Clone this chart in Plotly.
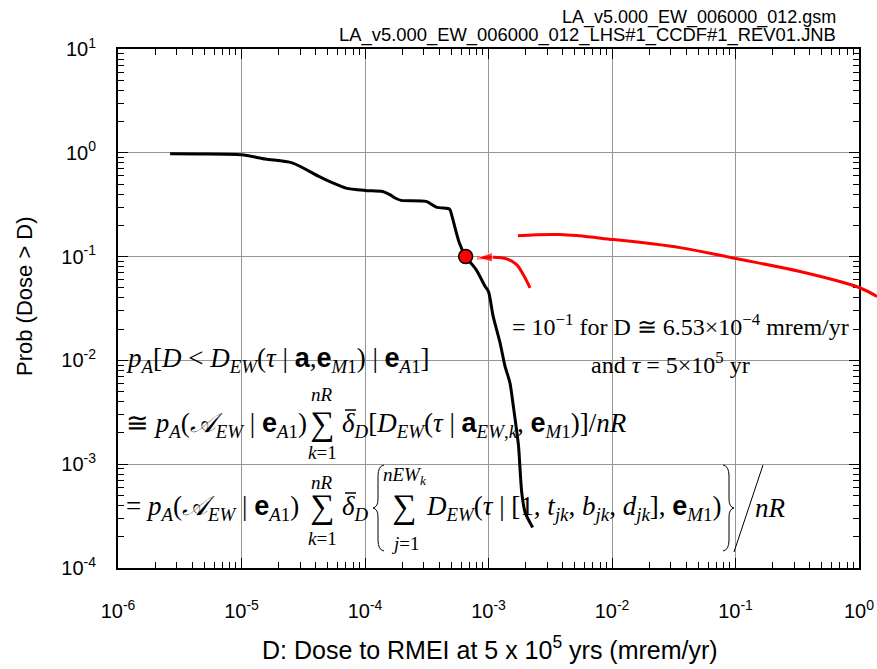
import plotly.graph_objects as go

# ---------------- data ----------------
dose = [2.64e-6, 4.6e-6, 1.0e-5, 1.56e-5, 2.57e-5, 4.27e-5, 5.54e-5, 7.0e-5, 1.0e-4, 1.39e-4,
        1.59e-4, 1.75e-4, 1.96e-4, 3.13e-4, 3.77e-4, 4.82e-4, 4.9e-4, 5.81e-4, 6.53e-4, 7.94e-4,
        9.37e-4, 1.0e-3, 1.09e-3, 1.24e-3, 1.36e-3, 1.49e-3, 1.59e-3, 1.75e-3, 1.80e-3, 1.86e-3,
        1.98e-3, 2.28e-3]
prob = [0.98, 0.975, 0.957, 0.87, 0.80, 0.59, 0.511, 0.457, 0.434, 0.424,
        0.395, 0.367, 0.348, 0.34, 0.30, 0.288, 0.28, 0.135, 0.1, 0.075,
        0.0518, 0.046, 0.0267, 0.0148, 0.0088, 0.0061, 0.0036, 0.0015, 0.00090, 0.00053,
        0.000343, 0.000246]

point_dose = [6.53e-4]
point_prob = [0.1]

# hand-drawn red annotation strokes (data units)
red_line_dose = [1.73e-3, 3.79e-3, 1.02e-2, 3.56e-2, 0.101, 0.333, 1.0, 1.40]
red_line_prob = [0.159, 0.163, 0.146, 0.122, 0.0957, 0.0718, 0.0504, 0.0412]
arrow_dose = [2.17e-3, 1.91e-3, 1.69e-3, 1.40e-3, 1.09e-3, 8.1e-4]
arrow_prob = [0.050, 0.0671, 0.0838, 0.095, 0.0985, 0.0972]

x_tickvals = [1e-6, 1e-5, 1e-4, 1e-3, 1e-2, 1e-1, 1e0]
x_ticktext = ["10<sup>-6</sup>", "10<sup>-5</sup>", "10<sup>-4</sup>", "10<sup>-3</sup>",
              "10<sup>-2</sup>", "10<sup>-1</sup>", "10<sup>0</sup>"]
y_tickvals = [1e-4, 1e-3, 1e-2, 1e-1, 1e0, 1e1]
y_ticktext = ["10<sup>-4</sup>", "10<sup>-3</sup>", "10<sup>-2</sup>", "10<sup>-1</sup>",
              "10<sup>0</sup>", "10<sup>1</sup>"]

header1 = "LA_v5.000_EW_006000_012.gsm"
header2 = "LA_v5.000_EW_006000_012_LHS#1_CCDF#1_REV01.JNB"
x_title = "D: Dose to RMEI at 5 x 10<sup>5</sup> yrs (mrem/yr)"
y_title = "Prob (Dose &gt; D)"

# ---------------- layout geometry ----------------
W, H = 877, 669
L, R, T, B = 118, 859, 49, 568
PW = W - L  # paper width (margin r = 0)
PH = B - T


def px(X):
    return (X - L) / PW


def py(Y):
    return (B - Y) / PH


SERIF = "Liberation Serif, Times New Roman, serif"
SANS = "Liberation Sans, Arial, sans-serif"


def bold(s):
    return f'<span style="font-family:Liberation Sans"><b>{s}</b></span>'


def it(s):
    return f"<i>{s}</i>"


def sub(s):
    return f"<sub>{s}</sub>"


A_cal = "𝒜"

fig = go.Figure()

fig.add_trace(go.Scatter(x=dose, y=prob, mode="lines",
                         line=dict(color="black", width=3, shape="spline", smoothing=0.7),
                         showlegend=False, xaxis="x", yaxis="y"))
fig.add_trace(go.Scatter(x=arrow_dose, y=arrow_prob, mode="lines+markers",
                         line=dict(color="red", width=3, shape="spline"),
                         marker=dict(symbol="arrow", angleref="previous", color="red",
                                     size=[0] * (len(arrow_dose) - 1) + [16]),
                         showlegend=False, xaxis="x", yaxis="y"))
fig.add_trace(go.Scatter(x=point_dose, y=point_prob, mode="markers",
                         marker=dict(color="red", size=14, line=dict(color="black", width=1.5)),
                         showlegend=False, cliponaxis=False, xaxis="x", yaxis="y"))
fig.add_trace(go.Scatter(x=red_line_dose, y=red_line_prob, mode="lines",
                         line=dict(color="red", width=3, shape="spline"), showlegend=False,
                         xaxis="x2", yaxis="y2"))

grid = "rgb(150,150,150)"
axis_common = dict(type="log", showline=True, linecolor="black", linewidth=2,
                   mirror="allticks", ticks="inside", ticklen=10, tickwidth=1.2,
                   tickcolor="black", showgrid=True, gridcolor=grid, gridwidth=1.2,
                   zeroline=False, automargin=False,
                   minor=dict(ticks="inside", ticklen=6, tickwidth=1, tickcolor="black",
                              dtick="D1", showgrid=False),
                   tickfont=dict(family=SANS, size=20, color="black"))

fig.update_layout(
    width=W, height=H, autosize=False,
    margin=dict(l=L, r=0, t=T, b=H - B, autoexpand=False),
    paper_bgcolor="white", plot_bgcolor="rgba(0,0,0,0)",
    xaxis=dict(axis_common, domain=[0, (R - L) / PW], range=[-6, 0], anchor="y",
               tickvals=x_tickvals, ticktext=x_ticktext, ticklabelstandoff=24),
    yaxis=dict(axis_common, domain=[0, 1], range=[-4, 1], anchor="x",
               tickvals=y_tickvals, ticktext=y_ticktext, ticklabelstandoff=16),
    xaxis3=dict(type="log", overlaying="x", range=[-6, 0], anchor="y", side="bottom",
                ticks="outside", ticklen=10, tickwidth=1.2, tickcolor="black",
                tickvals=x_tickvals, showticklabels=False, showgrid=False,
                showline=False, zeroline=False, automargin=False),
    yaxis3=dict(type="log", overlaying="y", range=[-4, 1], anchor="x", side="left",
                ticks="outside", ticklen=10, tickwidth=1.2, tickcolor="black",
                tickvals=y_tickvals, showticklabels=False, showgrid=False,
                showline=False, zeroline=False, automargin=False),
    xaxis2=dict(type="log", domain=[0, 1], range=[-6, -6 + PW / ((R - L) / 6)],
                anchor="y2", visible=False, automargin=False),
    yaxis2=dict(type="log", domain=[0, 1], range=[-4, 1], anchor="x2", visible=False,
                automargin=False),
    showlegend=False,
)

ann = []


def add_text(text, X, Y, size, xanchor="left", family=SERIF, yanchor="middle", angle=0):
    ann.append(dict(text=text, x=px(X), y=py(Y), xref="paper", yref="paper",
                    xanchor=xanchor, yanchor=yanchor, showarrow=False, textangle=angle,
                    font=dict(family=family, size=size, color="black")))


# header & titles
add_text(header1, 838, 17, 18, xanchor="right", family=SANS)
add_text(header2, 838, 35, 18.4, xanchor="right", family=SANS)
add_text(x_title, 490, 648, 25, xanchor="center", family=SANS)
add_text(y_title, 24, 296, 22, xanchor="center", family=SANS, angle=-90)

EQ = 27
SM = 19
# line 1
line1 = (it("p") + sub(it("A")) + "[" + it("D") + " &lt; " + it("D") + sub(it("EW")) + "(" +
         it("τ") + " | " + bold("a") + "," + bold("e") + sub(it("M") + "1") + ") | " +
         bold("e") + sub(it("A") + "1") + "]")
add_text(line1, 124, 360, EQ)

# line 2
pre = it("p") + sub(it("A")) + "(" + it(A_cal) + sub(it("EW")) + " | " + bold("e") + sub(it("A") + "1") + ")"
add_text("≅ " + pre, 124, 425, EQ)
add_text("∑", 322, 424, 34, xanchor="center")
add_text(it("nR"), 322, 394, SM, xanchor="center")
add_text(it("k") + "=1", 322, 452, SM, xanchor="center")
line2b = (it("δ") + sub(it("D")) + "[" + it("D") + sub(it("EW")) + "(" + it("τ") + " | " +
          bold("a") + sub(it("EW") + "," + it("k")) + ", " + bold("e") + sub(it("M") + "1") +
          ")]/" + it("nR"))
add_text(line2b, 340, 425, EQ)

# line 3
add_text("= " + pre, 124, 508, EQ)
add_text("∑", 322, 507, 34, xanchor="center")
add_text(it("nR"), 322, 482, SM, xanchor="center")
add_text(it("k") + "=1", 322, 538, SM, xanchor="center")
add_text(it("δ") + sub(it("D")), 340, 508, EQ)
add_text("∑", 404, 507, 34, xanchor="center")
add_text(it("nEW") + sub(it("k")), 405, 476, SM, xanchor="center")
add_text(it("j") + "=1", 405, 543, SM, xanchor="center")
line3b = (it("D") + sub(it("EW")) + "(" + it("τ") + " | [1, " + it("t") + sub(it("jk")) + ", " +
          it("b") + sub(it("jk")) + ", " + it("d") + sub(it("jk")) + "], " + bold("e") +
          sub(it("M") + "1") + ")")
add_text(line3b, 424, 508, EQ)
add_text(it("nR"), 753, 508, EQ)

# annotation near the point
add_text("= 10<sup>−1</sup> for D ≅ 6.53×10<sup>−4</sup> mrem/yr", 510, 325, 24)
add_text("and " + it("τ") + " = 5×10<sup>5</sup> yr", 670, 363, 24, xanchor="center")

fig.update_layout(annotations=ann)


def path_from(points):
    d = ""
    for cmd, pts in points:
        d += cmd + " " + " ".join(f"{px(a):.5f},{py(b):.5f}" for a, b in pts) + " "
    return d.strip()


brace_l = [("M", [(384, 465)]), ("Q", [(378, 466), (378, 476)]), ("L", [(378, 499)]),
           ("Q", [(378, 507), (373, 508)]), ("Q", [(378, 509), (378, 517)]),
           ("L", [(378, 540)]), ("Q", [(378, 550), (384, 551)])]
brace_r = [("M", [(723, 465)]), ("Q", [(729, 466), (729, 476)]), ("L", [(729, 499)]),
           ("Q", [(729, 507), (734, 508)]), ("Q", [(729, 509), (729, 517)]),
           ("L", [(729, 540)]), ("Q", [(729, 550), (723, 551)])]

shapes = [
    dict(type="path", xref="paper", yref="paper", path=path_from(brace_l),
         line=dict(color="black", width=1)),
    dict(type="path", xref="paper", yref="paper", path=path_from(brace_r),
         line=dict(color="black", width=1)),
    dict(type="line", xref="paper", yref="paper", x0=px(734), y0=py(552), x1=px(763), y1=py(465),
         line=dict(color="black", width=1)),
    # macrons over delta
    dict(type="line", xref="paper", yref="paper", x0=px(345), y0=py(410), x1=px(356), y1=py(410),
         line=dict(color="black", width=1.5)),
    dict(type="line", xref="paper", yref="paper", x0=px(345), y0=py(493), x1=px(356), y1=py(493),
         line=dict(color="black", width=1.5)),
]
fig.update_layout(shapes=shapes)

fig.write_html("out.html")
